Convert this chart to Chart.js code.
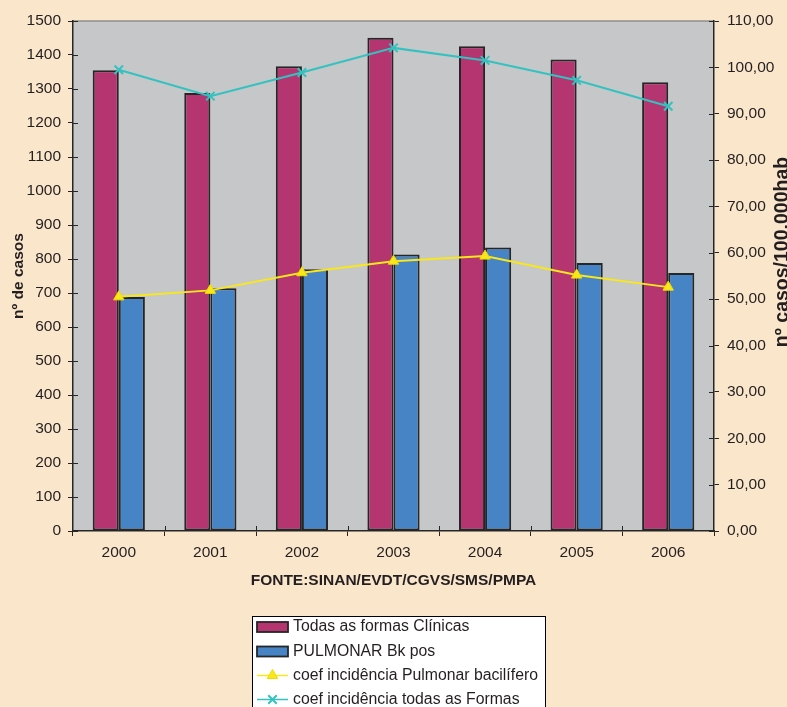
<!DOCTYPE html>
<html>
<head>
<meta charset="utf-8">
<script src="https://cdn.jsdelivr.net/npm/chart.js@4/dist/chart.umd.min.js"></script>
<style>
  html, body { margin: 0; padding: 0; background: #FAE6CB; }
  #wrap { position: relative; width: 787px; height: 707px; overflow: hidden; }
</style>
</head>
<body>
<div id="wrap"><canvas id="c"></canvas></div>
<script>
// ---- data ----
const categories = ['2000', '2001', '2002', '2003', '2004', '2005', '2006'];
const todasFormasClinicas = [1355, 1288, 1367, 1451, 1426, 1387, 1320];
const pulmonarBkPos = [688, 714, 770, 813, 834, 788, 759];
const coefPulmonarBacilifero = [50.5, 51.9, 55.7, 58.2, 59.3, 55.2, 52.6];
const coefTodasFormas = [99.5, 93.8, 98.9, 104.2, 101.5, 97.2, 91.6];
const leftAxisTicks = { min: 0, max: 1500, step: 100 };
const rightAxisTicks = { min: 0, max: 110, step: 10 };
const seriesLabels = ['Todas as formas Clínicas', 'PULMONAR Bk pos', 'coef incidência Pulmonar bacilífero', 'coef incidência todas as Formas'];
const leftTitle = 'nº de casos';
const rightTitle = 'nº casos/100.000hab';
const sourceTitle = 'FONTE:SINAN/EVDT/CGVS/SMS/PMPA';

// ---- styles ----
const BG = '#FAE6CB';
const PLOT = '#C6C7C9';
const TXT = '#231F20';
const AX = '#262626';
const FONT = '"Liberation Sans", Arial, sans-serif';

const bgPlugin = {
  id: 'bg',
  beforeDraw(chart) {
    const { ctx, chartArea: a } = chart;
    ctx.save();
    ctx.fillStyle = BG;
    ctx.fillRect(0, 0, chart.width, chart.height);
    ctx.fillStyle = PLOT;
    ctx.fillRect(a.left, a.top, a.right - a.left, a.bottom - a.top);
    ctx.strokeStyle = '#8E8E8E';
    ctx.lineWidth = 1.5;
    ctx.beginPath();
    ctx.moveTo(a.left, a.top);
    ctx.lineTo(a.right, a.top);
    ctx.stroke();
    ctx.restore();
  },
  afterDatasetsDraw(chart) {
    const { ctx, chartArea: a, scales } = chart;
    ctx.save();
    ctx.strokeStyle = AX;
    ctx.lineWidth = 1;
    ctx.beginPath();
    const x = scales.x;
    const cw = x.getPixelForValue(1) - x.getPixelForValue(0);
    for (let i = 1; i < categories.length; i++) {
      const px = Math.round(x.getPixelForValue(i) - cw / 2) + 0.5;
      ctx.moveTo(px, a.bottom);
      ctx.lineTo(px, a.bottom - 5);
    }
    scales.y.ticks.forEach(t => {
      const py = Math.round(scales.y.getPixelForValue(t.value)) + 0.5;
      ctx.moveTo(a.left, py);
      ctx.lineTo(a.left + 5, py);
    });
    scales.y1.ticks.forEach(t => {
      const py = Math.round(scales.y1.getPixelForValue(t.value)) + 0.5;
      ctx.moveTo(a.right, py);
      ctx.lineTo(a.right - 5, py);
    });
    ctx.stroke();
    ctx.restore();
  },
  afterDraw(chart) {
    const { ctx } = chart;
    ctx.save();
    ctx.translate(783, 252);
    ctx.rotate(-Math.PI / 2);
    ctx.fillStyle = TXT;
    ctx.font = 'bold 19.5px ' + FONT;
    ctx.textAlign = 'center';
    ctx.textBaseline = 'middle';
    ctx.fillText(rightTitle, 0, 0);
    ctx.restore();

    ctx.save();
    const bx = 252, by = 616, bw = 293, bh = 100;
    ctx.fillStyle = '#FFFFFF';
    ctx.fillRect(bx, by, bw, bh);
    ctx.strokeStyle = '#000000';
    ctx.lineWidth = 1;
    ctx.strokeRect(bx + 0.5, by + 0.5, bw, bh);
    const rows = [627, 651.5, 675.5, 699.5];
    chart.data.datasets.forEach((ds, i) => {
      const y = rows[i];
      const sx = 257, sw = 31;
      if (ds.type === 'line') {
        ctx.strokeStyle = ds.borderColor;
        ctx.lineWidth = 1.5;
        ctx.beginPath();
        ctx.moveTo(sx, y);
        ctx.lineTo(sx + sw, y);
        ctx.stroke();
        ctx.fillStyle = ds.pointBackgroundColor;
        ctx.strokeStyle = ds.pointBorderColor;
        ctx.lineWidth = ds.pointBorderWidth;
        Chart.helpers.drawPoint(ctx, {pointStyle: ds.pointStyle, radius: ds.pointRadius, borderWidth: ds.pointBorderWidth, rotation: 0}, sx + sw / 2, y);
      } else {
        ctx.fillStyle = ds.backgroundColor;
        ctx.fillRect(sx, y - 5, sw, 10);
        ctx.strokeStyle = AX;
        ctx.lineWidth = 1.8;
        ctx.strokeRect(sx, y - 5, sw, 10);
      }
      ctx.fillStyle = TXT;
      ctx.font = '15.8px ' + FONT;
      ctx.textAlign = 'left';
      ctx.textBaseline = 'middle';
      ctx.fillText(ds.label, 293, y);
    });
    ctx.restore();
  }
};

const fmt2 = v => Number(v).toFixed(2).replace('.', ',');

new Chart(document.getElementById('c'), {
  type: 'bar',
  data: {
    labels: categories,
    datasets: [
      {
        type: 'bar', label: seriesLabels[0], data: todasFormasClinicas,
        backgroundColor: '#B4356F', borderColor: AX, borderWidth: 2, borderSkipped: false,
        yAxisID: 'y', order: 2, categoryPercentage: 0.57, barPercentage: 1.0
      },
      {
        type: 'bar', label: seriesLabels[1], data: pulmonarBkPos,
        backgroundColor: '#4784C5', borderColor: AX, borderWidth: 2, borderSkipped: false,
        yAxisID: 'y', order: 3, categoryPercentage: 0.57, barPercentage: 1.0
      },
      {
        type: 'line', label: seriesLabels[2], data: coefPulmonarBacilifero,
        borderColor: '#F8E71C', borderWidth: 2, backgroundColor: '#F8E71C',
        pointStyle: 'triangle', pointRadius: 6, pointBackgroundColor: '#F8E71C',
        pointBorderColor: '#F2DC00', pointBorderWidth: 1,
        yAxisID: 'y1', order: 1, tension: 0, fill: false
      },
      {
        type: 'line', label: seriesLabels[3], data: coefTodasFormas,
        borderColor: '#33C2BF', borderWidth: 2, backgroundColor: '#33C2BF',
        pointStyle: 'crossRot', pointRadius: 6, pointBackgroundColor: '#33C2BF',
        pointBorderColor: '#33C2BF', pointBorderWidth: 2,
        yAxisID: 'y1', order: 0, tension: 0, fill: false
      }
    ]
  },
  options: {
    responsive: true,
    maintainAspectRatio: false,
    animation: false,
    events: [],
    layout: { padding: { top: 21, bottom: 113, left: 0, right: 0 } },
    plugins: { legend: { display: false }, tooltip: { enabled: false } },
    scales: {
      x: {
        offset: true,
        grid: { offset: true, drawOnChartArea: false, tickLength: 5, color: AX, tickColor: AX },
        border: { color: AX, width: 1.5 },
        ticks: { color: TXT, font: { family: FONT, size: 15.5 }, padding: 7, maxRotation: 0 },
        title: { display: true, text: sourceTitle, color: TXT, font: { family: FONT, size: 15.5, weight: 'bold' }, padding: { top: 4, bottom: 4 } },
        afterFit(s) { s.height = 63; }
      },
      y: {
        position: 'left',
        min: leftAxisTicks.min, max: leftAxisTicks.max,
        ticks: { stepSize: leftAxisTicks.step, color: TXT, font: { family: FONT, size: 15.5 }, padding: 7, callback: v => String(v) },
        grid: { drawOnChartArea: false, tickLength: 5, color: AX, tickColor: AX },
        border: { color: AX, width: 1.5 },
        title: { display: true, text: leftTitle, color: TXT, font: { family: FONT, size: 15.5, weight: 'bold' }, padding: { top: 9, bottom: 0 } },
        afterFit(s) { s.width = 73; }
      },
      y1: {
        position: 'right',
        min: rightAxisTicks.min, max: rightAxisTicks.max,
        ticks: { stepSize: rightAxisTicks.step, color: TXT, font: { family: FONT, size: 15.5 }, padding: 8, callback: v => fmt2(v) },
        grid: { drawOnChartArea: false, tickLength: 5, color: AX, tickColor: AX },
        border: { color: AX, width: 1.5 },
        afterFit(s) { s.width = 73; }
      }
    }
  },
  plugins: [bgPlugin]
});
</script>
</body>
</html>
